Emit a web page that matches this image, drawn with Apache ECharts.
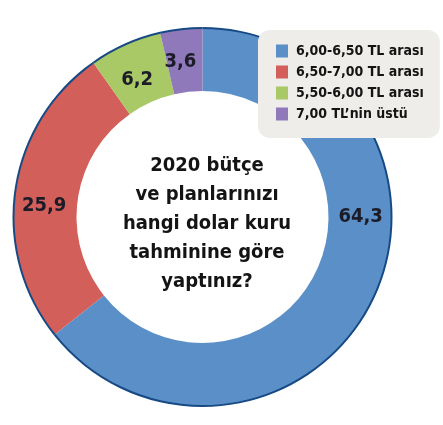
<!DOCTYPE html>
<html>
<head>
<meta charset="utf-8">
<script src="https://cdn.jsdelivr.net/npm/echarts@6/dist/echarts.min.js"></script>
<style>
html,body{margin:0;padding:0;background:#fff;}
#chart_box{width:443px;height:425px;}
</style>
</head>
<body>
<div id="chart_box"></div>
<script>
// veri
var dilimAdlari = ['6,00-6,50 TL arası', '6,50-7,00 TL arası', '5,50-6,00 TL arası', '7,00 TL\u2019nin üstü'];
var dilimDegerleri = [64.3, 25.9, 6.2, 3.6];
var dilimRenkleri = ['#5b8fc7', '#d35f5a', '#a9c866', '#8f79bb'];
var ortaYazi = '2020 bütçe\nve planlarınızı\nhangi dolar kuru\ntahminine göre\nyaptınız?';

var fontAile = "'DejaVu Sans Condensed', 'Liberation Sans Narrow', sans-serif";

var pieData = [];
var kenarData = [];
for (var i = 0; i < dilimAdlari.length; i++) {
    pieData.push({ name: dilimAdlari[i], value: dilimDegerleri[i], itemStyle: { color: dilimRenkleri[i] } });
    kenarData.push({ name: 'k' + i, value: dilimDegerleri[i] });
}

// etiket kaydirmalari (orta aciya gore)
var etiketKaydir = [[14, -70], [0, 11], [0, 9], [-4, 4]];

var myChart = echarts.init(document.getElementById('chart_box'));

var option = {
    backgroundColor: '#ffffff',
    animation: false,
    title: {
        text: ortaYazi,
        left: 202,
        top: 146,
        textAlign: 'center',
        textStyle: {
            fontFamily: fontAile,
            fontWeight: 'bold',
            fontSize: 20,
            lineHeight: 29,
            color: '#141414',
            align: 'center'
        }
    },
    legend: {
        orient: 'vertical',
        left: 258,
        top: 30,
        padding: [14, 16, 17, 18],
        backgroundColor: '#eeede9',
        borderRadius: 12,
        itemWidth: 12,
        itemHeight: 13,
        itemGap: 7,
        icon: 'rect',
        data: dilimAdlari,
        textStyle: {
            fontFamily: fontAile,
            fontWeight: 'bold',
            fontSize: 14,
            color: '#141414',
            padding: [0, 0, 0, 3]
        }
    },
    series: [
        {
            name: 'kenar',
            type: 'pie',
            silent: true,
            center: [202.5, 217],
            radius: [187, 190],
            startAngle: 90,
            label: { show: false },
            labelLine: { show: false },
            itemStyle: { color: '#174a85' },
            data: kenarData
        },
        {
            name: 'kur',
            type: 'pie',
            center: [202.5, 217],
            radius: [126, 188],
            startAngle: 90,
            clockwise: true,
            label: {
                show: true,
                position: 'inside',
                fontFamily: fontAile,
                fontWeight: 'bold',
                fontSize: 20,
                color: '#1c1c28',
                formatter: function (p) {
                    return String(p.value).replace('.', ',');
                }
            },
            labelLayout: function (p) {
                var k = etiketKaydir[p.dataIndex];
                return { dx: k[0], dy: k[1] };
            },
            labelLine: { show: false },
            data: pieData
        }
    ]
};

myChart.setOption(option);
window.onresize = function () {
    myChart.resize();
};
</script>
</body>
</html>
